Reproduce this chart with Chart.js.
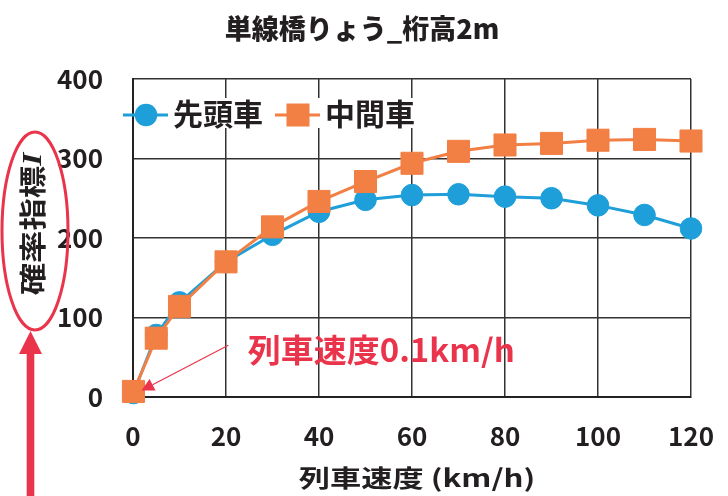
<!DOCTYPE html>
<html lang="ja">
<head>
<meta charset="utf-8">
<title>単線橋りょう_桁高2m</title>
<script src="https://cdn.jsdelivr.net/npm/chart.js@4.4.1/dist/chart.umd.min.js"></script>
<style>
  html, body { margin: 0; padding: 0; background: #ffffff; }
  #wrap { width: 728px; height: 496px; }
  canvas { display: block; }
</style>
</head>
<body>
<div id="wrap"><canvas id="chart" width="728" height="496"></canvas></div>
<script>
// Train speed (km/h) at which each value was evaluated
const speeds = [0.1, 5, 10, 20, 30, 40, 50, 60, 70, 80, 90, 100, 110, 120];
// Probability index I for the leading car
const leadCar = [5, 78, 119, 170, 204, 233, 248, 254, 255, 252, 250, 241, 229, 212];
// Probability index I for the middle car
const middleCar = [7, 74, 114, 170, 214, 246, 271, 294, 309, 317, 319, 323, 324, 322];

const xTicks = [0, 20, 40, 60, 80, 100, 120];
const yTicks = [0, 100, 200, 300, 400];

const seriesNames = ['先頭車', '中間車'];
const chartTitle = '単線橋りょう_桁高2m';
const xTitle = '列車速度 (km/h)';
const yTitleMain = '確率指標';
const yTitleSymbol = 'I';
const noteText = '列車速度0.1km/h';

const BLUE = '#1e9fd9';
const ORANGE = '#f27f44';
const RED = '#e9344b';
const INK = '#231f20';
const FONT = '"Noto Sans CJK JP", "Noto Sans", sans-serif';

function pts(values) {
  return speeds.map((s, i) => ({ x: s, y: values[i] }));
}

// Draw text stretched along its own direction, centred on (cx, cy)
function drawStretched(ctx, parts, cx, cy, sx, angle) {
  ctx.save();
  ctx.translate(cx, cy);
  ctx.rotate(angle);
  ctx.scale(sx, 1);
  ctx.textBaseline = 'middle';
  ctx.textAlign = 'left';
  let total = 0;
  const widths = parts.map(p => { ctx.font = p.font; const w = ctx.measureText(p.text).width; total += w; return w; });
  let x = -total / 2;
  parts.forEach((p, i) => {
    ctx.font = p.font;
    ctx.fillStyle = p.color;
    ctx.fillText(p.text, x, p.dy || 0);
    x += widths[i];
  });
  ctx.restore();
}

function drawMarker(ctx, style, x, y, color) {
  ctx.fillStyle = color;
  if (style === 'circle') {
    ctx.beginPath();
    ctx.arc(x, y, 11.3, 0, Math.PI * 2);
    ctx.fill();
  } else {
    ctx.fillRect(x - 11.5, y - 11.5, 23, 23);
  }
}

const decorations = {
  id: 'decorations',
  afterDraw(chart) {
    const { ctx, chartArea: ca, scales } = chart;
    const xs = scales.x, ys = scales.y;

    // Chart title, centred on the canvas
    drawStretched(ctx, [{ text: chartTitle, font: '900 27px ' + FONT, color: INK }], chart.width / 2 - 2, 29, 1.0, 0);

    // Legend inside the plot, top-left
    ctx.save();
    ctx.fillStyle = '#ffffff';
    ctx.fillRect(ca.left + 2, ca.top + 19, 285, 30);
    const ly = ca.top + 36;
    const items = [
      { x0: ca.left - 10, style: 'circle', color: BLUE, name: seriesNames[0] },
      { x0: ca.left + 142, style: 'rect', color: ORANGE, name: seriesNames[1] }
    ];
    items.forEach(it => {
      ctx.strokeStyle = it.color;
      ctx.lineWidth = 3;
      ctx.beginPath();
      ctx.moveTo(it.x0, ly);
      ctx.lineTo(it.x0 + 45, ly);
      ctx.stroke();
      drawMarker(ctx, it.style, it.x0 + 23, ly, it.color);
      ctx.fillStyle = INK;
      ctx.font = 'bold 30px ' + FONT;
      ctx.textBaseline = 'middle';
      ctx.textAlign = 'left';
      ctx.fillText(it.name, it.x0 + 50, ly - 1);
    });
    ctx.restore();

    // Note pointing at the 0.1 km/h point
    ctx.save();
    const px = xs.getPixelForValue(speeds[0]);
    const py = ys.getPixelForValue(middleCar[0]);
    const tipX = px + 8, tipY = py - 1;
    const startX = xs.getPixelForValue(20.5), startY = ys.getPixelForValue(65);
    const ang = Math.atan2(tipY - startY, tipX - startX);
    const headLen = 12.5, headW = 6.5;
    const bx = tipX - headLen * Math.cos(ang), by = tipY - headLen * Math.sin(ang);
    ctx.strokeStyle = RED;
    ctx.lineWidth = 1.2;
    ctx.beginPath();
    ctx.moveTo(startX, startY);
    ctx.lineTo(bx, by);
    ctx.stroke();
    ctx.fillStyle = RED;
    ctx.beginPath();
    ctx.moveTo(tipX, tipY);
    ctx.lineTo(bx + headW * Math.sin(ang), by - headW * Math.cos(ang));
    ctx.lineTo(bx - headW * Math.sin(ang), by + headW * Math.cos(ang));
    ctx.closePath();
    ctx.fill();
    const noteStretch = 1.03;
    ctx.font = 'bold 32px ' + FONT;
    const nw = ctx.measureText(noteText).width * noteStretch;
    const nx = xs.getPixelForValue(24.7);
    const ny = ys.getPixelForValue(59);
    ctx.restore();
    drawStretched(ctx, [{ text: noteText, font: 'bold 32px ' + FONT, color: RED }], nx + nw / 2, ny, noteStretch, 0);

    // Axis titles
    drawStretched(ctx, [{ text: xTitle, font: 'bold 24px ' + FONT, color: INK }], (ca.left + ca.right) / 2 + 5, 478, 1.3, 0);
    drawStretched(ctx, [
      { text: yTitleMain, font: 'bold 27px ' + FONT, color: INK },
      { text: yTitleSymbol, font: 'italic bold 28px "Liberation Serif", "DejaVu Serif", serif', color: INK, dy: 1 }
    ], 32.5, 224, 1.2, -Math.PI / 2);

    // Highlight ellipse around the y title and the arrow beneath it
    ctx.save();
    ctx.strokeStyle = RED;
    ctx.lineWidth = 3;
    ctx.beginPath();
    ctx.ellipse(35, 231, 33, 99, 0, 0, Math.PI * 2);
    ctx.stroke();
    ctx.fillStyle = RED;
    ctx.fillRect(26.7, 352, 7.6, 144);
    ctx.beginPath();
    ctx.moveTo(30.5, 331);
    ctx.lineTo(42, 354);
    ctx.lineTo(19, 354);
    ctx.closePath();
    ctx.fill();
    ctx.restore();
  }
};

const tickFont = { family: FONT, size: 26, weight: 'bold' };

new Chart(document.getElementById('chart'), {
  type: 'line',
  data: {
    datasets: [
      {
        label: seriesNames[0],
        data: pts(leadCar),
        borderColor: BLUE,
        backgroundColor: BLUE,
        pointBackgroundColor: BLUE,
        pointBorderColor: BLUE,
        pointStyle: 'circle',
        pointRadius: 10.8,
        pointBorderWidth: 1,
        borderWidth: 3,
        tension: 0,
        clip: false,
        order: 1
      },
      {
        label: seriesNames[1],
        data: pts(middleCar),
        borderColor: ORANGE,
        backgroundColor: ORANGE,
        pointBackgroundColor: ORANGE,
        pointBorderColor: ORANGE,
        pointStyle: 'rect',
        pointRadius: 15.6,
        pointBorderWidth: 1,
        borderWidth: 3,
        tension: 0,
        clip: false,
        order: 0
      }
    ]
  },
  options: {
    responsive: false,
    animation: false,
    devicePixelRatio: 1,
    layout: { padding: { left: 0, right: 37, top: 79, bottom: 0 } },
    plugins: {
      legend: { display: false },
      tooltip: { enabled: false },
      title: { display: false }
    },
    scales: {
      x: {
        type: 'linear',
        min: xTicks[0],
        max: xTicks[xTicks.length - 1],
        afterBuildTicks(s) { s.ticks = xTicks.map(v => ({ value: v })); },
        afterFit(s) { s.height = 99; },
        ticks: { padding: 3, color: INK, font: tickFont },
        grid: { color: '#333333', lineWidth: 1.5, drawTicks: true, tickLength: 21, tickColor: 'rgba(0,0,0,0)' },
        border: { color: '#222222', width: 2 }
      },
      y: {
        type: 'linear',
        min: yTicks[0],
        max: yTicks[yTicks.length - 1],
        afterBuildTicks(s) { s.ticks = yTicks.map(v => ({ value: v })); },
        afterFit(s) { s.width = 133; },
        ticks: { padding: 3, color: INK, font: tickFont },
        grid: { color: '#333333', lineWidth: 1.5, drawTicks: true, tickLength: 27, tickColor: 'rgba(0,0,0,0)' },
        border: { color: '#222222', width: 2 }
      }
    }
  },
  plugins: [decorations]
});
</script>
</body>
</html>
